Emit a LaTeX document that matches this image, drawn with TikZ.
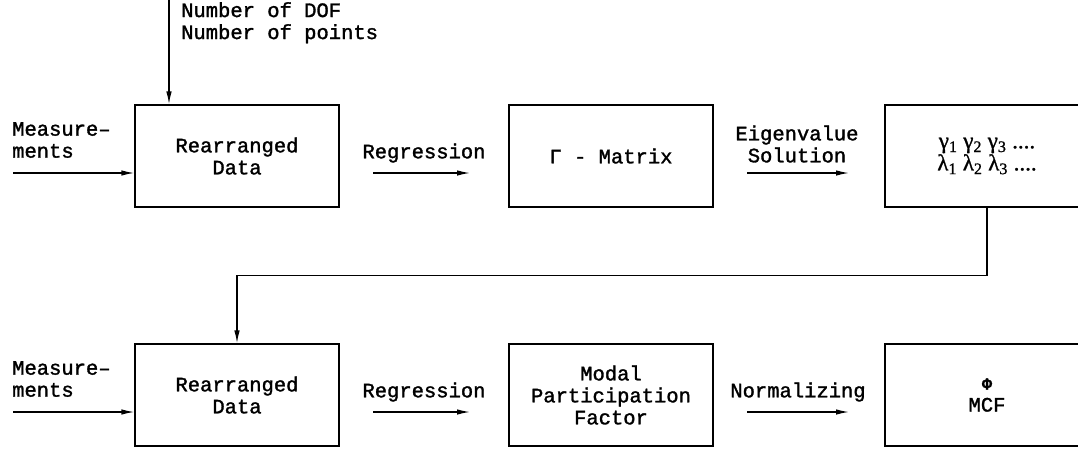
\documentclass[tikz,border=0pt]{standalone}
\usepackage{fontspec}
\setmainfont{Liberation Mono}[RawFeature={embolden=1.5}]
\newfontfamily\greekfont{Liberation Serif}[RawFeature={embolden=1.0}]
\usetikzlibrary{arrows.meta}
\begin{document}
\begin{tikzpicture}[x=1pt,y=-1pt,
  font=\fontsize{20.5}{22}\selectfont,
  box/.style={draw,line width=1.3pt,minimum width=204pt,minimum height=102pt,inner sep=0pt,align=center},
  conn/.style={line width=1.3pt},
  arr/.style={conn,-{Latex[length=13pt,width=5.5pt]}},
  lbl/.style={align=center,inner sep=0pt}]
\path[use as bounding box,clip] (0,0) rectangle (1078,451);
% boxes
\node[box] (b1) at (237,156) {Rearranged\\Data};
\node[box] (b2) at (611,156) {Γ - Matrix};
\node[box,font=\greekfont\fontsize{23}{18}\selectfont] (b3) at (987,156) {γ\textsubscript{1} γ\textsubscript{2} γ\textsubscript{3} ....\\λ\textsubscript{1} λ\textsubscript{2} λ\textsubscript{3} ....};
\node[box] (b4) at (237,395) {Rearranged\\Data};
\node[box] (b5) at (611,395) {Modal\\Participation\\Factor};
\node[box] (b6) at (987,395) {{\fontsize{17}{17}\selectfont\bfseries Φ}\\MCF};
% top input
\coordinate (in0) at (169,-2);
\draw[arr] (in0) -- (in0 |- b1.north);
\node[lbl,anchor=north west,align=left] (dof) at (181,2) {Number of DOF\\Number of points};
% measurements
\coordinate (m1) at (13,173);
\draw[arr] (m1) -- (m1 -| b1.west);
\node[lbl,anchor=west,align=left] (ml1) at (12,140) {Measure--\\ments};
\coordinate (m2) at (13,412);
\draw[arr] (m2) -- (m2 -| b4.west);
\node[lbl,anchor=west,align=left] (ml2) at (12,379) {Measure--\\ments};
% regression 1
\coordinate (r1s) at (373,173);
\coordinate (r1e) at (470,173);
\draw[arr] (r1s) -- (r1e);
\node[lbl] (rl1) at (424,153) {Regression};
% eigen
\coordinate (e1s) at (747,173);
\coordinate (e1e) at (849,173);
\draw[arr] (e1s) -- (e1e);
\node[lbl] (el1) at (797,144) {Eigenvalue\\Solution};
% regression 2
\coordinate (r2s) at (373,412);
\coordinate (r2e) at (470,412);
\draw[arr] (r2s) -- (r2e);
\node[lbl] (rl2) at (424,392) {Regression};
% normalizing
\coordinate (n2s) at (747,412);
\coordinate (n2e) at (849,412);
\draw[arr] (n2s) -- (n2e);
\node[lbl] (nl2) at (798,392) {Normalizing};
% feedback
\draw[arr] (b3.south) -- ++(0,68) -| (b4.north);
\end{tikzpicture}
\end{document}
